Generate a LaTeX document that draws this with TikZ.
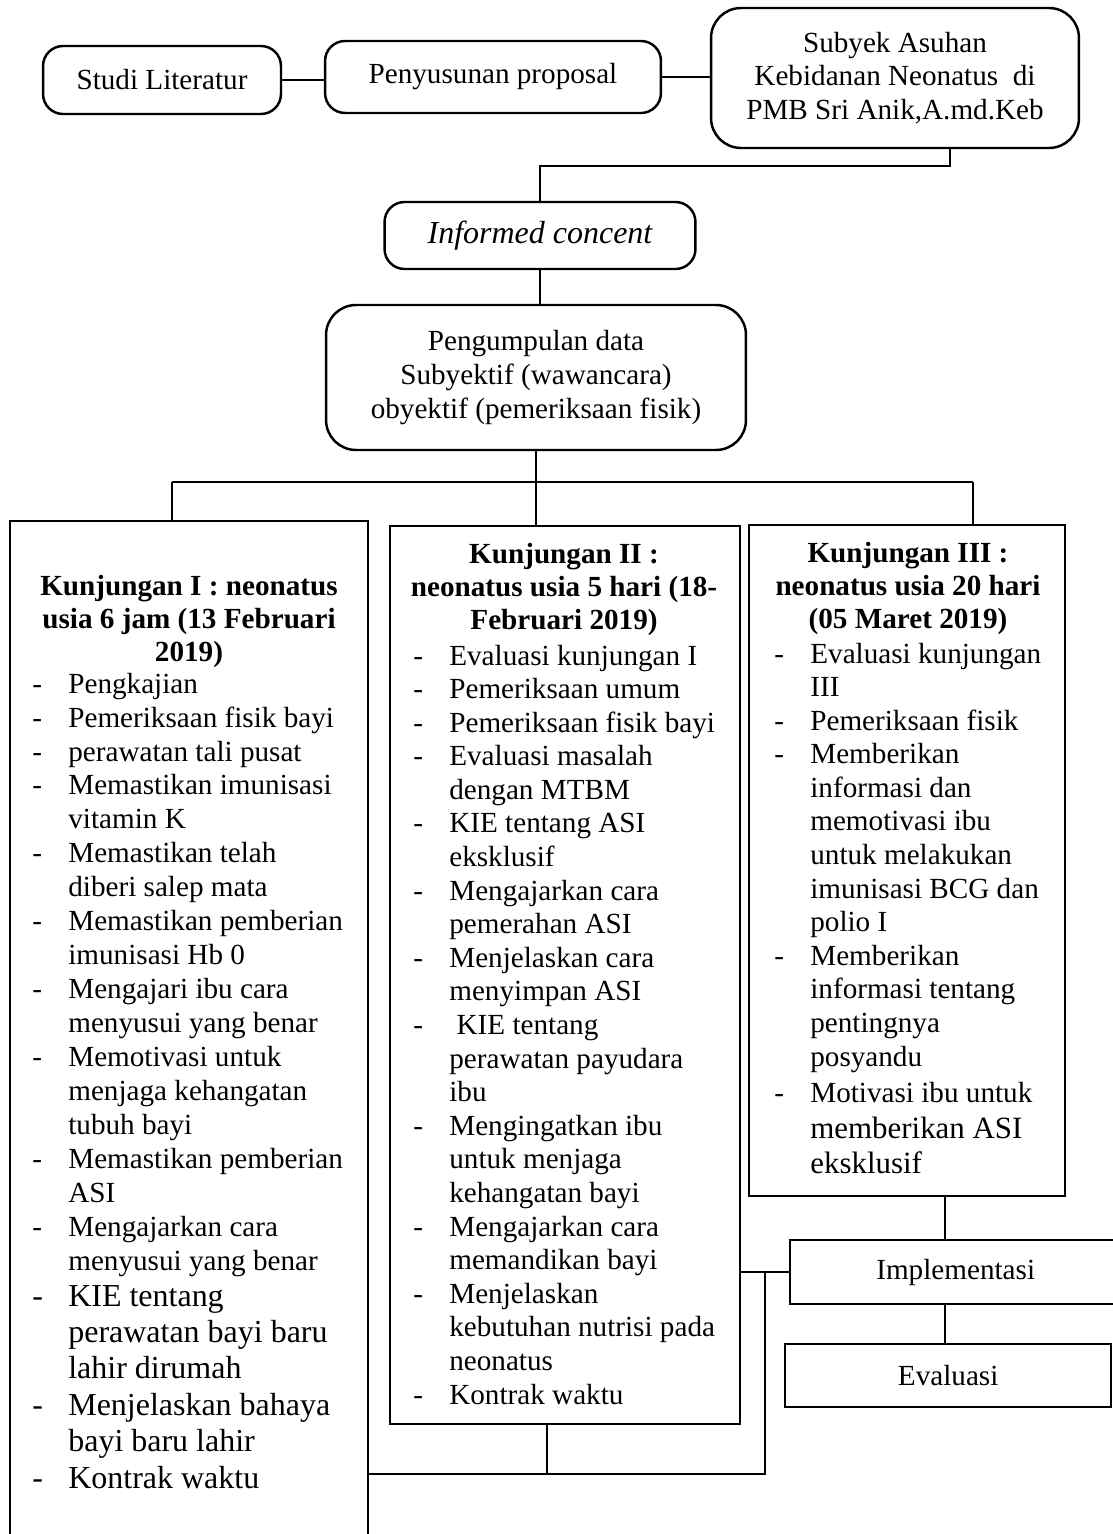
\documentclass[tikz,border=0pt]{standalone}
\usepackage{fontspec}
\setmainfont{Liberation Serif}
\usepackage{tikz}

\newcommand\ds{\makebox[0.72cm][l]{-}}
\newcommand\ct{\hspace*{0.72cm}}
\newcommand\bigtxt{\fontsize{18.2}{20.8}\selectfont}

\begin{document}
\begin{tikzpicture}[x=0.02cm,y=-0.02cm,
	txt/.style={font=\fontsize{16.6}{19.2}\selectfont},
	rbox/.style={draw=black,line width=1.4pt,rounded corners=0.4cm,align=center,inner sep=2pt,txt},
	sbox/.style={draw=black,line width=1.4pt,inner sep=0pt,anchor=north west,txt},
	head/.style={anchor=base,inner sep=0pt,font=\fontsize{16.6}{18.9}\selectfont\bfseries},
	items/.style={anchor=base west,inner sep=0pt,font=\fontsize{16.6}{#1}\selectfont},
	link/.style={line width=0.85pt}]

	\useasboundingbox (0,0) rectangle (1112,1534);

	\node[rbox,minimum width=4.76cm,minimum height=1.36cm] (studi) at (162,80) {Studi Literatur};
	\node[rbox,minimum width=6.72cm,minimum height=1.44cm] (proposal) at (493,77) {Penyusunan proposal};
	\node[rbox,rounded corners=0.6cm,minimum width=7.36cm,minimum height=2.8cm] (subyek) at (895,78) {Subyek Asuhan\\Kebidanan Neonatus\ \ di\\PMB Sri Anik,A.md.Keb};
	\node[rbox,minimum width=6.22cm,minimum height=1.34cm] (informed) at (540,235.5) {\bigtxt\itshape Informed concent};
	\node[rbox,rounded corners=0.6cm,minimum width=8.4cm,minimum height=2.9cm] (kumpul) at (536,377.5) {Pengumpulan data\\Subyektif (wawancara)\\obyektif (pemeriksaan fisik)};

	\node[sbox,minimum width=7.16cm,minimum height=21.2cm] (k1) at (9,520) {};
	\node[sbox,minimum width=7.0cm,minimum height=17.96cm] (k2) at (389,525) {};
	\node[sbox,minimum width=6.32cm,minimum height=13.42cm] (k3) at (748,524) {};
	\node[sbox,minimum width=6.62cm,minimum height=1.28cm] (impl) at (789,1239) {Implementasi};
	\node[sbox,minimum width=6.52cm,minimum height=1.26cm] (eval) at (784,1343) {Evaluasi};

	% kunjungan I
	\node[head] (k1head) at (189,595) {\begin{tabular}[t]{@{}c@{}}Kunjungan I : neonatus\\usia 6 jam (13 Februari\\2019)\end{tabular}};
	\node[items=19.35] (k1list) at (32,693) {\begin{tabular}[t]{@{}l@{}}
		\ds Pengkajian\\
		\ds Pemeriksaan fisik bayi\\
		\ds perawatan tali pusat\\
		\ds Memastikan imunisasi\\
		\ct vitamin K\\
		\ds Memastikan telah\\
		\ct diberi salep mata\\
		\ds Memastikan pemberian\\
		\ct imunisasi Hb 0\\
		\ds Mengajari ibu cara\\
		\ct menyusui yang benar\\
		\ds Memotivasi untuk\\
		\ct menjaga kehangatan\\
		\ct tubuh bayi\\
		\ds Memastikan pemberian\\
		\ct ASI\\
		\ds Mengajarkan cara\\
		\ct menyusui yang benar\\[0.6pt]
		\bigtxt\ds KIE tentang\\[1.4pt]
		\bigtxt\ct perawatan bayi baru\\[1.4pt]
		\bigtxt\ct lahir dirumah\\[1.4pt]
		\bigtxt\ds Menjelaskan bahaya\\[1.4pt]
		\bigtxt\ct bayi baru lahir\\[1.4pt]
		\bigtxt\ds Kontrak waktu
	\end{tabular}};

	% kunjungan II
	\node[head] (k2head) at (564,563) {\begin{tabular}[t]{@{}c@{}}Kunjungan II :\\neonatus usia 5 hari (18-\\Februari 2019)\end{tabular}};
	\node[items=19.12] (k2list) at (413,665) {\begin{tabular}[t]{@{}l@{}}
		\ds Evaluasi kunjungan I\\
		\ds Pemeriksaan umum\\
		\ds Pemeriksaan fisik bayi\\
		\ds Evaluasi masalah\\
		\ct dengan MTBM\\
		\ds KIE tentang ASI\\
		\ct eksklusif\\
		\ds Mengajarkan cara\\
		\ct pemerahan ASI\\
		\ds Menjelaskan cara\\
		\ct menyimpan ASI\\
		\ds\ KIE tentang\\
		\ct perawatan payudara\\
		\ct ibu\\
		\ds Mengingatkan ibu\\
		\ct untuk menjaga\\
		\ct kehangatan bayi\\
		\ds Mengajarkan cara\\
		\ct memandikan bayi\\
		\ds Menjelaskan\\
		\ct kebutuhan nutrisi pada\\
		\ct neonatus\\
		\ds Kontrak waktu
	\end{tabular}};

	% kunjungan III
	\node[head] (k3head) at (908,562) {\begin{tabular}[t]{@{}c@{}}Kunjungan III :\\neonatus usia 20 hari\\(05 Maret 2019)\end{tabular}};
	\node[items=19.12] (k3list) at (774,663) {\begin{tabular}[t]{@{}l@{}}
		\ds Evaluasi kunjungan\\
		\ct III\\
		\ds Pemeriksaan fisik\\
		\ds Memberikan\\
		\ct informasi dan\\
		\ct memotivasi ibu\\
		\ct untuk melakukan\\
		\ct imunisasi BCG dan\\
		\ct polio I\\
		\ds Memberikan\\
		\ct informasi tentang\\
		\ct pentingnya\\
		\ct posyandu\\[1.4pt]
		\ds Motivasi ibu untuk\\[1.4pt]
		\fontsize{17.6}{20}\selectfont\ct memberikan ASI\\[0.8pt]
		\fontsize{17.6}{20}\selectfont\ct eksklusif
	\end{tabular}};

	% connectors
	\draw[link] (studi.east) -- (studi.east -| proposal.west);
	\draw[link] (proposal.east) -- (proposal.east -| subyek.west);
	\coordinate (s1) at (950,166);
	\draw[link] (s1 |- subyek.south) -- (s1) -- (s1 -| informed) -- (informed.north);
	\draw[link] (informed.south) -- (informed.south |- kumpul.north);
	\draw[link] (kumpul.south) -- (kumpul.south |- k2.north);
	\coordinate (bl) at (172,482);
	\coordinate (br) at (973,482);
	\draw[link] (bl) -- (br);
	\draw[link] (bl) -- (bl |- k1.north);
	\draw[link] (br) -- (br |- k3.north);
	\coordinate (v3) at (945,1220);
	\draw[link] (v3 |- k3.south) -- (v3 |- impl.north);
	\draw[link] (v3 |- impl.south) -- (v3 |- eval.north);
	\draw[link] (impl.west -| k2.east) -- (impl.west);
	\coordinate (jn) at (765,1474);
	\draw[link] (jn |- impl.west) -- (jn) -- (jn -| k1.east);
	\coordinate (d2) at (547,1474);
	\draw[link] (d2 |- k2.south) -- (d2);

\end{tikzpicture}
\end{document}
